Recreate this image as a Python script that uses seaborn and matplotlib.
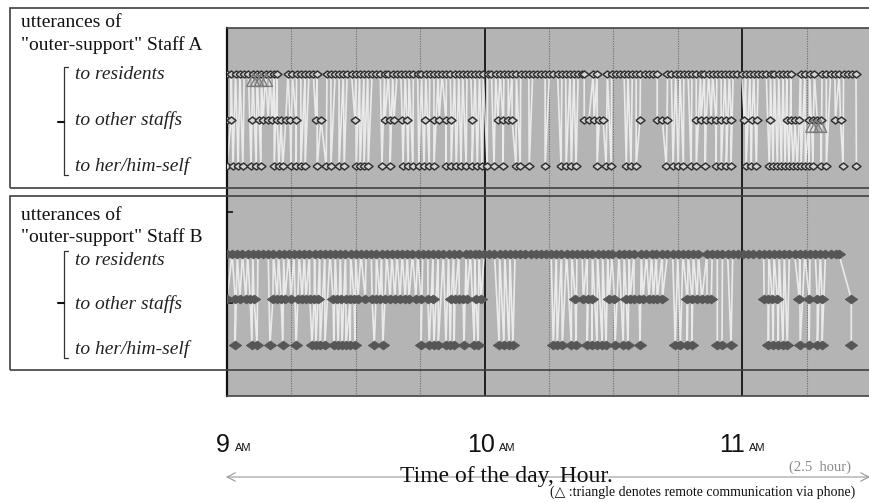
import matplotlib
matplotlib.use('Agg')
import numpy as np
import pandas as pd
import matplotlib.pyplot as plt
import seaborn as sns
from matplotlib.lines import Line2D
from matplotlib.patches import Rectangle, FancyArrowPatch

# ---- data: utterance times, minutes after 9:00 AM ----
a_to_residents = [0.0, 1.0, 2.0, 3.0, 4.0, 5.0, 6.0, 7.0, 8.0, 9.0, 10.0, 11.0, 11.7,
                  14.2, 15.2, 16.2, 17.2, 18.2, 19.1, 20.1, 21.0,
                  23.3, 24.2, 25.2, 26.1, 27.1, 28.0, 29.0, 30.0, 30.9, 31.9, 32.8, 33.8,
                  34.8, 35.7, 36.7, 37.6, 38.6, 39.6, 40.5, 41.5, 42.4, 43.4, 44.4, 45.3,
                  46.3, 47.2, 48.2, 49.2, 50.1, 51.1, 52.0, 53.0, 54.0, 54.9, 55.9, 56.8,
                  57.8, 58.8, 59.7, 60.7, 61.6, 62.6, 63.6, 64.5, 65.5, 66.4, 67.4, 68.4,
                  69.3, 70.3, 71.2, 72.2, 73.2, 74.1, 75.1, 76.0, 77.0, 78.0, 78.9, 79.9,
                  80.8, 81.8, 82.6, 83.2,
                  85.3, 86.2,
                  88.6, 89.6, 90.5, 91.5, 92.5, 93.4, 94.4, 95.3, 96.3, 97.3, 98.2, 99.2, 100.2,
                  102.6, 103.5, 104.5, 105.5, 106.4, 107.4, 108.3, 109.3, 110.3, 111.2, 112.2,
                  113.1, 114.1, 115.1, 116.0, 117.0, 117.9, 118.9, 119.9, 120.8, 121.8, 122.7,
                  123.7, 124.7, 125.6, 126.6, 127.5, 128.5, 129.5, 130.4, 131.4,
                  133.6, 134.6, 135.7, 136.8,
                  138.6, 139.6, 140.6, 141.6, 142.6, 143.6, 144.6, 145.6, 146.5]
a_to_other_staffs = [0.0, 0.9, 5.8, 7.5, 8.4, 9.6, 10.5, 11.7, 12.6, 13.7, 14.7, 16.1,
                     20.7, 21.9, 29.8, 36.8, 38.0, 38.9, 40.8, 41.9, 46.1, 48.2, 49.4,
                     51.0, 52.2, 57.1, 63.1, 64.3, 65.5, 66.4, 83.2, 84.3, 85.5, 86.7,
                     87.6, 96.2, 100.2, 101.4, 102.5, 109.3, 110.4, 111.6, 112.8, 113.9,
                     115.1, 116.3, 117.4, 120.5, 122.3, 123.5, 126.5, 130.5, 131.4, 132.3,
                     133.3, 135.6, 136.6, 137.5, 138.4, 141.7, 142.9]
a_to_self = [0.0, 1.4, 2.6, 3.7, 5.6, 6.8, 7.9, 11.0, 12.1, 13.0, 14.9, 16.1, 17.2, 18.2,
             21.0, 23.1, 24.2, 26.1, 27.3, 30.1, 31.0, 31.9, 32.9, 36.1, 38.0, 41.0, 42.2,
             43.3, 44.7, 45.9, 47.1, 48.2, 51.0, 52.2, 53.4, 54.5, 55.7, 57.1, 58.3, 59.4,
             60.6, 62.2, 64.3, 67.3, 68.3, 70.4, 74.1, 77.8, 79.0, 80.2, 81.3, 86.2, 88.3,
             89.5, 93.0, 94.1, 95.3, 102.3, 103.9, 105.1, 106.3, 108.1, 109.3, 111.4, 113.9,
             115.1, 116.3, 117.4, 120.9, 122.1, 123.3, 126.3, 127.2, 128.2, 129.1, 130.0,
             130.9, 131.9, 132.8, 133.7, 134.7, 135.6, 136.5, 138.4, 139.6, 143.5, 146.6]

b_to_residents = [0.0, 1.2, 2.4, 3.6, 4.8, 6.0, 7.2, 8.4, 9.6, 10.8, 12.0, 13.2, 14.4, 15.6,
                  16.8, 18.0, 19.2, 20.4, 21.6, 22.8, 24.0, 25.2, 26.4, 27.6, 28.8, 30.0,
                  31.2, 32.4, 33.6, 34.8, 36.0, 37.2, 38.4, 39.6, 40.8, 42.0, 43.2, 44.4,
                  45.6, 46.8, 48.0, 49.2, 50.4, 51.6, 52.8, 54.0,
                  55.7, 56.7, 57.7, 58.7,
                  59.9, 61.1, 62.3, 63.5, 64.7, 65.9, 67.1, 68.3, 69.5, 70.7, 71.9, 73.1,
                  74.3, 75.5, 76.7, 77.9, 79.1, 80.3, 81.5, 82.7, 83.9, 85.1, 86.3, 87.5,
                  88.7, 89.7,
                  91.3, 92.5, 93.7, 94.8,
                  96.5, 97.7, 98.9, 100.0,
                  101.4, 102.6, 103.8, 105.0, 106.2, 107.4, 108.6, 109.8,
                  111.8, 113.0, 114.2, 115.4, 116.6, 117.8, 119.0, 120.2, 121.4, 122.6,
                  123.8, 125.0, 126.2, 127.4, 128.6, 129.8, 131.0, 132.2, 133.4, 134.6,
                  135.8, 137.0, 138.2, 139.4, 140.6, 141.8, 142.5]
b_to_other_staffs = [0.0, 1.9, 3.0, 4.4, 5.4, 6.3, 10.7, 11.7, 12.6, 13.5, 14.9, 16.5, 17.5,
                     18.4, 19.3, 20.3, 21.2, 24.7, 25.6, 26.6, 27.7, 28.7, 29.6, 30.5, 32.2,
                     33.8, 34.7, 35.6, 36.8, 38.0, 39.1, 40.3, 41.5, 42.4, 44.0, 45.2, 46.8,
                     48.0, 52.2, 53.1, 54.1, 55.0, 55.9, 58.0, 59.2, 81.1, 83.0, 84.1, 85.0,
                     89.0, 90.2, 93.0, 93.9, 94.8, 96.0, 96.9, 98.3, 99.3, 100.2, 101.4,
                     107.2, 108.3, 109.5, 110.6, 111.8, 112.8, 125.1, 126.1, 127.0, 128.2,
                     133.3, 135.6, 137.5, 138.6, 145.4]
b_to_self = [1.9, 5.8, 7.0, 10.0, 13.0, 16.1, 19.8, 20.7, 21.7, 22.8, 24.9, 25.9, 26.8, 27.7,
             28.7, 29.8, 34.3, 36.3, 45.2, 47.1, 48.2, 49.2, 51.0, 52.0, 52.9, 55.2, 57.6,
             58.5, 63.4, 64.5, 65.7, 66.6, 76.0, 76.9, 78.1, 80.2, 81.3, 83.9, 85.0, 86.2,
             87.4, 88.3, 90.4, 92.3, 93.4, 96.2, 104.4, 105.6, 107.2, 108.3, 114.2, 115.3,
             117.4, 126.1, 127.2, 128.4, 129.5, 130.5, 133.5, 135.6, 137.5, 138.6, 145.4]

# phone calls (triangles)
a_phone_residents = [6.1, 7.0, 7.9, 9.1]
a_phone_other_staffs = [136.3, 137.2, 138.2]

row_labels = ['to residents', 'to other staffs', 'to her/him-self']
hour_numbers = ['9', '10', '11']
quarter_minutes = [15, 30, 45, 75, 90, 105, 135]
hour_minutes = [60, 120]

# ---- layout ----
sns.set_theme(style='white')
plt.rcParams['font.family'] = ['Liberation Serif', 'DejaVu Sans']

W, H = 869, 503
fig = plt.figure(figsize=(W / 100, H / 100), dpi=100)
fig.patch.set_facecolor('white')


def fx(px):
    return px / W


def fy(py):
    return 1 - py / H


ax = fig.add_axes([fx(227), fy(396), (871 - 227) / W, (396 - 28) / H])
ax.set_facecolor('#b4b4b4')

ROWS_A = [0.0, 1.0, 2.0]
ROWS_B = [3.91, 4.89, 5.89]


def build(res, oth, slf, rows):
    df = pd.DataFrame({
        't': list(res) + list(oth) + list(slf),
        'y': [rows[0]] * len(res) + [rows[1]] * len(oth) + [rows[2]] * len(slf),
    })
    return df.sort_values('t', kind='stable').reset_index(drop=True)


dfa = build(a_to_residents, a_to_other_staffs, a_to_self, ROWS_A)
dfb = build(b_to_residents, b_to_other_staffs, b_to_self, ROWS_B)

for m in quarter_minutes:
    ax.axvline(m, color='#6e6e6e', lw=0.8, ls=(0, (1, 1.2)), zorder=1)
for m in hour_minutes:
    ax.axvline(m, color='#1e1e1e', lw=1.4, zorder=1.5)

for df in (dfa, dfb):
    sns.lineplot(data=df, x='t', y='y', sort=False, estimator=None, color='#f4f4f4',
                 lw=1.2, alpha=0.85, ax=ax, legend=False, zorder=2)

marker_a = [(-1, 0), (0, 0.78), (1, 0), (0, -0.78), (-1, 0)]
marker_b = [(-1, 0), (0, 0.72), (1, 0), (0, -0.72), (-1, 0)]
sns.scatterplot(data=dfa, x='t', y='y', marker=marker_a, s=42, color='#d4d4d4',
                edgecolor='#2e2e2e', linewidth=1.05, ax=ax, legend=False, zorder=3)
sns.scatterplot(data=dfb, x='t', y='y', marker=marker_b, s=80, color='#565656',
                edgecolor='#565656', linewidth=0.5, ax=ax, legend=False, zorder=3)

sns.scatterplot(x=a_phone_residents, y=[0.13] * len(a_phone_residents), marker='^', s=85,
                color='#7c7c7c', facecolors='none', edgecolor='#7c7c7c', linewidth=1.0,
                ax=ax, zorder=4)
sns.scatterplot(x=a_phone_other_staffs, y=[1.13] * len(a_phone_other_staffs), marker='^',
                s=85, color='#7c7c7c', facecolors='none', edgecolor='#7c7c7c', linewidth=1.0,
                ax=ax, zorder=4)

ax.set_xlim(0, 150)
ax.set_ylim(7.0, -1.0)
ax.set_xlabel('')
ax.set_ylabel('')
ax.set_xticks([])
ax.set_yticks([3.0, 4.98])
ax.set_yticklabels([])
ax.tick_params(axis='y', direction='in', length=4, width=1.2, color='#111111', left=True)
for s in ['top', 'bottom']:
    ax.spines[s].set_color('#444444')
    ax.spines[s].set_linewidth(1.2)
ax.spines['left'].set_color('#111111')
ax.spines['left'].set_linewidth(1.6)
ax.spines['right'].set_visible(False)

# label boxes
for (y0, y1) in [(8, 188), (196, 370)]:
    fig.add_artist(Rectangle((fx(10), fy(y1)), fx(900) - fx(10), (y1 - y0) / H,
                             transform=fig.transFigure, fill=False, ec='#404040', lw=1.2,
                             zorder=5))

# brackets
for (top, bot, mid) in [(67, 175, 122), (251, 358, 303)]:
    xs = [fx(68), fx(64), fx(64), fx(68)]
    ys = [fy(top), fy(top), fy(bot), fy(bot)]
    fig.add_artist(Line2D(xs, ys, color='#333333', lw=0.9, transform=fig.transFigure))
    fig.add_artist(Line2D([fx(58), fx(64)], [fy(mid), fy(mid)], color='#111111', lw=1.5,
                          transform=fig.transFigure))

# texts
fig.text(fx(21), fy(27), 'utterances of', fontsize=14, ha='left', va='baseline', color='#111111')
fig.text(fx(21), fy(50), '"outer-support" Staff A', fontsize=14, ha='left', va='baseline',
         color='#111111')
fig.text(fx(21), fy(220), 'utterances of', fontsize=14, ha='left', va='baseline', color='#111111')
fig.text(fx(21), fy(242), '"outer-support" Staff B', fontsize=14, ha='left', va='baseline',
         color='#111111')
for lab, yb in zip(row_labels, [79, 125, 171]):
    fig.text(fx(75), fy(yb), lab, fontsize=14, style='italic', ha='left', va='baseline',
             color='#222222')
for lab, yb in zip(row_labels, [265, 309, 354]):
    fig.text(fx(75), fy(yb), lab, fontsize=14, style='italic', ha='left', va='baseline',
             color='#222222')

narrow = ['Liberation Sans Narrow', 'Liberation Sans', 'DejaVu Sans']
for num, cx, amx in zip(hour_numbers, [222.5, 481, 732.5], [243, 507, 757]):
    fig.text(fx(cx), fy(452), num, fontsize=18, family=narrow, ha='center', va='baseline',
             color='#111111')
    fig.text(fx(amx), fy(451), 'AM', fontsize=8, family=['Liberation Sans', 'DejaVu Sans'],
             ha='center', va='baseline', color='#111111')

fig.text(fx(506), fy(482), 'Time of the day, Hour.', fontsize=17, ha='center', va='baseline',
         color='#111111')
fig.text(fx(820), fy(471), '(2.5  hour)', fontsize=10.5, ha='center', va='baseline',
         color='#8a8a8a')
fig.add_artist(FancyArrowPatch(
    (fx(223), fy(477)), (fx(873), fy(477)), transform=fig.transFigure,
    arrowstyle='<->,head_length=6,head_width=3', color='#9a9a9a', lw=0.8))
fig.text(fx(855), fy(496), '(\u25b3 :triangle denotes remote communication via phone)',
         fontsize=10, ha='right', va='baseline', color='#111111')

fig.savefig('out.png', dpi=100)
